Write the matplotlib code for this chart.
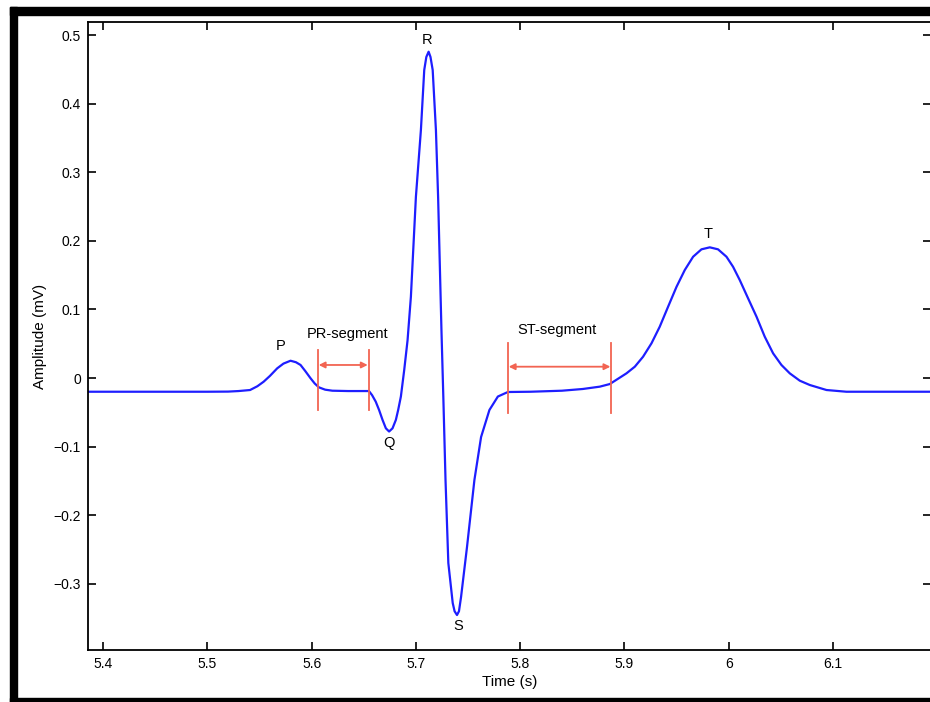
# ECG waveform with PR and ST segments marked
import matplotlib.pyplot as plt
from matplotlib.patches import Rectangle

plt.rcParams['font.family'] = ['Liberation Sans', 'DejaVu Sans']

# ECG trace: time (s) and amplitude (mV)
time = [5.3856, 5.45, 5.50, 5.52, 5.53, 5.541, 5.548, 5.554, 5.560, 5.567,
        5.573, 5.5798, 5.585, 5.5894, 5.594, 5.599, 5.603, 5.607, 5.613, 5.6199,
        5.635, 5.655, 5.658, 5.6615, 5.6647, 5.668, 5.6712, 5.6743, 5.6776, 5.6808,
        5.683, 5.6856, 5.6888, 5.692, 5.6952, 5.700, 5.7048, 5.708, 5.710, 5.7122,
        5.714, 5.7161, 5.7192, 5.7213, 5.7245, 5.7263, 5.7284, 5.7311, 5.7353, 5.7371,
        5.7394, 5.7413, 5.7433, 5.749, 5.7561, 5.7625, 5.7705, 5.7786, 5.7882, 5.81,
        5.84, 5.86, 5.8763, 5.8859, 5.9019, 5.9099, 5.9178, 5.9259, 5.9338, 5.9418,
        5.9499, 5.9578, 5.9658, 5.9738, 5.9818, 5.9897, 5.9978, 6.0041, 6.0105, 6.0185,
        6.0266, 6.0345, 6.0425, 6.0505, 6.0585, 6.0681, 6.0777, 6.0937, 6.1128, 6.2]
amp = [-0.020, -0.020, -0.020, -0.0198, -0.019, -0.0175, -0.012, -0.0054, 0.003, 0.0141,
       0.021, 0.0252, 0.023, 0.019, 0.010, -0.0004, -0.008, -0.0136, -0.017, -0.0185,
       -0.019, -0.019, -0.025, -0.0345, -0.0466, -0.061, -0.0733, -0.078, -0.0733, -0.061,
       -0.0466, -0.027, 0.0117, 0.055, 0.1185, 0.264, 0.3615, 0.449, 0.468, 0.4757,
       0.468, 0.449, 0.3615, 0.2638, 0.070, -0.0277, -0.1487, -0.2697, -0.328, -0.340,
       -0.3455, -0.340, -0.3192, -0.2464, -0.1487, -0.086, -0.0466, -0.027, -0.0204, -0.020,
       -0.0185, -0.016, -0.0126, -0.0088, 0.0068, 0.0165, 0.031, 0.0506, 0.0748, 0.1039,
       0.133, 0.1574, 0.1768, 0.1876, 0.1905, 0.1876, 0.1768, 0.1622, 0.1429, 0.1162,
       0.0894, 0.0602, 0.036, 0.019, 0.0068, -0.0039, -0.0102, -0.0175, -0.020, -0.020]

# segment markers (start, end) and wave labels
pr_seg = (5.6058, 5.6548)
st_seg = (5.788, 5.8875)
wave_names = ['P', 'Q', 'R', 'S', 'T']
wave_t = [5.570, 5.674, 5.7106, 5.7404, 5.9800]
wave_y = [0.047, -0.095, 0.493, -0.3615, 0.210]

fig = plt.figure(figsize=(9.3, 7.02), dpi=100)

# black frame around the picture
frame = dict(color='black', transform=fig.transFigure, figure=fig)
fig.patches.append(Rectangle((10 / 930, 0), 7 / 930, 695 / 702, **frame))
fig.patches.append(Rectangle((10 / 930, 687 / 702), 1, 8 / 702, **frame))
fig.patches.append(Rectangle((10 / 930, 0), 1, 4 / 702, **frame))

ax = fig.add_axes([88 / 930, 52 / 702, 843 / 930, 628 / 702])
ax.plot(time, amp, color='#1e1eff', lw=1.6)

red = '#f26452'
for seg, y0, y1, ya in [(pr_seg, -0.047, 0.041, 0.019), (st_seg, -0.051, 0.051, 0.0165)]:
    for t in seg:
        ax.plot([t, t], [y0, y1], color=red, lw=1.3)
    ax.annotate('', xy=(seg[1] - 0.001, ya), xytext=(seg[0] + 0.001, ya),
                arrowprops=dict(arrowstyle='<|-|>', color=red, lw=1.3,
                                mutation_scale=9, shrinkA=0, shrinkB=0))

ax.text(5.6346, 0.064, 'PR-segment', ha='center', va='center', fontsize=10.5)
ax.text(5.8356, 0.070, 'ST-segment', ha='center', va='center', fontsize=10.5)
for name, t, y in zip(wave_names, wave_t, wave_y):
    ax.text(t, y, name, ha='center', va='center', fontsize=10.5)

ax.set_xlim(5.3856, 6.1939)
ax.set_ylim(-0.3965, 0.519)
ax.set_xticks([5.4, 5.5, 5.6, 5.7, 5.8, 5.9, 6.0, 6.1])
ax.set_xticklabels(['5.4', '5.5', '5.6', '5.7', '5.8', '5.9', '6', '6.1'])
ax.set_yticks([-0.3, -0.2, -0.1, 0, 0.1, 0.2, 0.3, 0.4, 0.5])
ax.set_yticklabels(['\u22120.3', '\u22120.2', '\u22120.1', '0', '0.1', '0.2', '0.3', '0.4', '0.5'])
ax.tick_params(direction='in', length=6, width=1.2, top=True, right=True,
               labelsize=10, pad=5)
for s in ax.spines.values():
    s.set_linewidth(1.3)

ax.set_xlabel('Time (s)', fontsize=11, labelpad=3)
ax.set_ylabel('Amplitude (mV)', fontsize=11, labelpad=5)

fig.savefig('out.png', dpi=100)
